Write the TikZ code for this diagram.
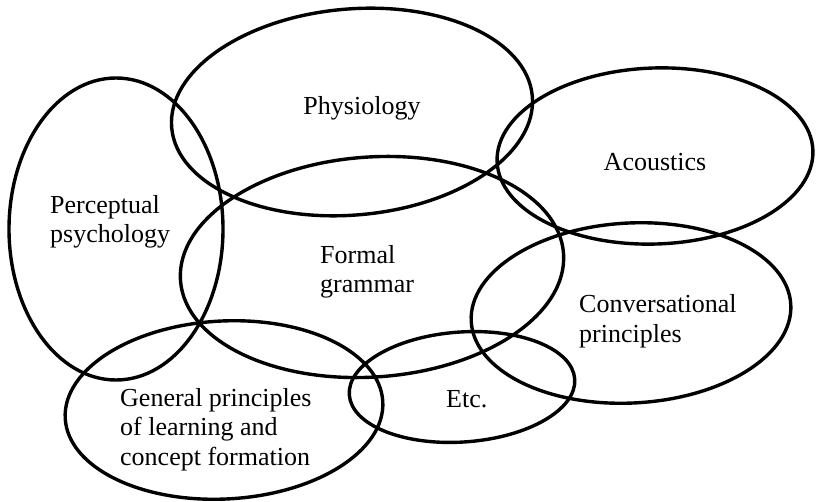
\documentclass[tikz,border=0pt]{standalone}
\usepackage{fontspec}
\setmainfont{Liberation Serif}
\usetikzlibrary{shapes.geometric}
\begin{document}
\begin{tikzpicture}[x=1pt,y=-1pt,
  ell/.style={draw, ellipse, line width=3.4pt, inner sep=0pt, outer sep=0pt},
  lab/.style={font=\fontsize{26}{29.5}\selectfont, align=left, inner sep=0pt}]
\useasboundingbox[fill=white] (0,0) rectangle (816,502);
% circles of the diagram
\node[ell, minimum width=362pt, minimum height=206pt, rotate=5] (phys) at (352,112) {};
\node[ell, minimum width=316pt, minimum height=176pt, rotate=2] (acou) at (655,156) {};
\node[ell, minimum width=214pt, minimum height=302pt] (perc) at (116,229) {};
\node[ell, minimum width=384pt, minimum height=220pt, rotate=4] (form) at (372,267) {};
\node[ell, minimum width=320pt, minimum height=180pt, rotate=3] (conv) at (631,313) {};
\node[ell, minimum width=226pt, minimum height=110pt, rotate=4] (etc) at (462,387) {};
\node[ell, minimum width=318pt, minimum height=178pt, rotate=3] (gen) at (224,410) {};
% labels (base anchor = baseline of the last line)
\node[lab, anchor=base] (tphys) at (362,115) {Physiology};
\node[lab, anchor=base] (tacou) at (655,171) {Acoustics};
\node[lab, anchor=base west] (tperc) at (50,243) {Perceptual\\psychology};
\node[lab, anchor=base west] (tform) at (320,293) {Formal\\grammar};
\node[lab, anchor=base west] (tconv) at (579,342) {Conversational\\principles};
\node[lab, anchor=base west] (tetc) at (446,407) {Etc.};
\node[lab, anchor=base west] (tgen) at (120,465) {General principles\\of learning and\\concept formation};
\end{tikzpicture}
\end{document}
